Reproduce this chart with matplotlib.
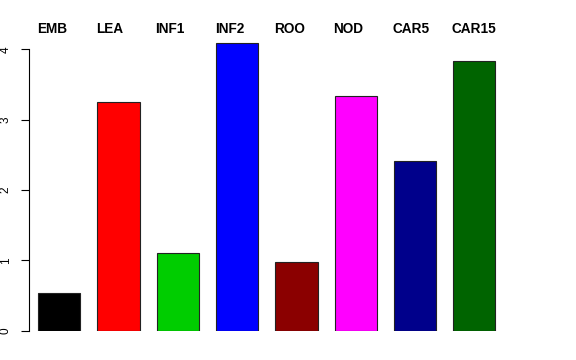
import numpy as np
import matplotlib
matplotlib.use("Agg")
import matplotlib.pyplot as plt
import matplotlib.transforms as mtransforms

plt.rcParams['font.family'] = ['Liberation Sans', 'DejaVu Sans']

tissues = ['EMB', 'LEA', 'INF1', 'INF2', 'ROO', 'NOD', 'CAR5', 'CAR15']
values = [0.53, 3.25, 1.10, 4.09, 0.98, 3.33, 2.41, 3.83]
colors = ['#000000', '#FF0000', '#00CD00', '#0000FF', '#8B0000', '#FF00FF', '#00008B', '#006400']

W, H = 576, 360
fig = plt.figure(figsize=(W / 100, H / 100), dpi=100)

# plot region in pixels (from top-left)
px_left, px_right = 29, 540
px_y0 = 330.7
unit_y = 70.35
ymax = 4.2
px_top = px_y0 - ymax * unit_y
ax = fig.add_axes([px_left / W, (H - px_y0) / H,
                   (px_right - px_left) / W, (px_y0 - px_top) / H])

unit_x = 42.36
lefts = 0.4 + 1.4 * np.arange(len(values))
x0 = 0.4 - (38 - px_left) / unit_x
ax.set_xlim(x0, x0 + (px_right - px_left) / unit_x)
ax.set_ylim(0, ymax)

ax.bar(lefts, values, width=1.0, align='edge', color=colors,
       edgecolor='#222222', linewidth=0.8)

for s in ['top', 'right', 'bottom']:
    ax.spines[s].set_visible(False)
ax.spines['left'].set_bounds(0, 4)
ax.spines['left'].set_linewidth(0.8)
ax.set_xticks([])
ax.set_yticks([0, 1, 2, 3, 4])
ax.tick_params(axis='y', length=6, width=0.8, pad=6.5, labelsize=8.5)
for lab in ax.get_yticklabels():
    lab.set_rotation(90)
    lab.set_va('center')

trans = mtransforms.blended_transform_factory(ax.transData, fig.transFigure)
for x, name in zip(lefts, tissues):
    ax.text(x - 0.03, (H - 29) / H, name, transform=trans, ha='left', va='center',
            fontsize=9.8, fontweight='bold', clip_on=False)

fig.savefig('out.png', dpi=100)
